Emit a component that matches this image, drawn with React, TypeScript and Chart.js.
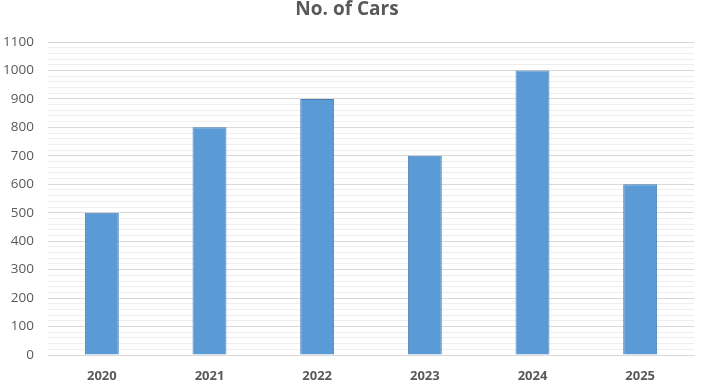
import React, { useEffect, useRef } from "react";
import { Chart, registerables } from "chart.js";

Chart.register(...registerables);

const categories = ["2020", "2021", "2022", "2023", "2024", "2025"];
const carCounts = [500, 800, 900, 700, 1000, 600];
const chartTitle = "No. of Cars";
const yMax = 1100;
const yMajorStep = 100;
const yMinorStep = 20;

export default function App() {
  const ref = useRef<HTMLCanvasElement | null>(null);
  useEffect(() => {
    document.body.style.margin = "0";
    const ctx = ref.current!.getContext("2d")!;
    const chart = new Chart(ctx, {
      type: "bar",
      data: {
        labels: categories,
        datasets: [
          {
            label: chartTitle,
            data: carCounts,
            backgroundColor: "#5B9BD5",
            borderColor: "#4A80B8",
            borderWidth: 1,
            categoryPercentage: 1,
            barPercentage: 0.315,
          },
        ],
      },
      options: {
        animation: false,
        responsive: false,
        maintainAspectRatio: false,
        layout: { padding: { top: 0, right: 7, bottom: 3, left: 0 } },
        plugins: {
          legend: { display: false },
          tooltip: { enabled: false },
          title: {
            display: true,
            text: chartTitle,
            color: "#595959",
            font: { family: "Open Sans", size: 19, weight: "bold", lineHeight: 1 },
            padding: { top: 0, bottom: 23 },
          },
        },
        scales: {
          x: {
            afterFit: (scale: any) => {
              scale.height = 29;
            },
            grid: { display: false, drawTicks: false },
            border: { display: true, color: "#d9d9d9", width: 1 },
            ticks: {
              color: "#595959",
              font: { family: "Open Sans", size: 13, weight: "bold" },
              padding: 13,
              maxRotation: 0,
            },
          },
          y: {
            min: 0,
            max: yMax,
            afterFit: (scale: any) => {
              scale.width = 48;
            },
            grid: {
              drawTicks: false,
              color: (c: any) =>
                c.tick && c.tick.value % yMajorStep === 0 ? "#d9d9d9" : "#eeeeee",
              lineWidth: 1,
            },
            border: { display: false },
            ticks: {
              stepSize: yMinorStep,
              autoSkip: false,
              color: "#595959",
              font: { family: "Open Sans", size: 13.5 },
              padding: 14,
              callback: (v: any) => (Number(v) % yMajorStep === 0 ? String(v) : ""),
            },
          },
        },
      },
    });
    return () => chart.destroy();
  }, []);
  return (
    <div style={{ width: 701, height: 387 }}>
      <canvas ref={ref} width={701} height={387} style={{ display: "block" }} />
    </div>
  );
}
